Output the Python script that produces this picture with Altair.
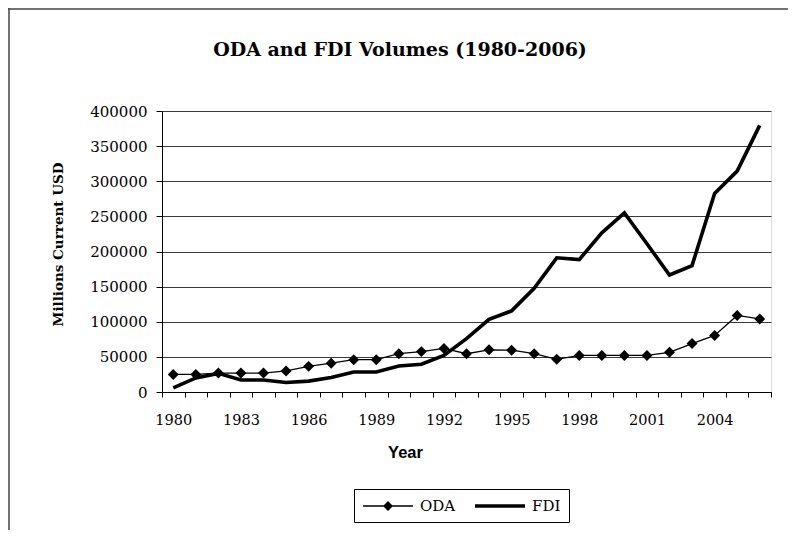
import altair as alt
import pandas as pd

years = list(range(1980, 2007))
oda = [25000, 25000, 27000, 27000, 27000, 30000, 36500, 41000, 46000, 46000,
       54500, 57500, 62000, 54500, 60000, 59500, 54500, 46500, 52000, 52000,
       52000, 52000, 56500, 69000, 80500, 109000, 104000]
fdi = [6000, 20000, 26500, 17000, 17000, 13500, 15500, 20500, 28500, 28500,
       37000, 39500, 52000, 76000, 103500, 115500, 147500, 191000, 188500, 226500,
       255000, 211000, 166500, 180000, 282500, 314500, 379500]
series_names = ["ODA", "FDI"]
y_ticks = [0, 50000, 100000, 150000, 200000, 250000, 300000, 350000, 400000]
x_label_years = [1980, 1983, 1986, 1989, 1992, 1995, 1998, 2001, 2004]
chart_title = "ODA and FDI Volumes (1980-2006)"

rows = []
for yr, o, f in zip(years, oda, fdi):
    rows.append({"year": yr, "series": "ODA", "value": o})
    rows.append({"year": yr, "series": "FDI", "value": f})
df = pd.DataFrame(rows)

W, H = 609, 281
step = W / len(years)
tick_positions = [y - 0.5 for y in years] + [years[-1] + 0.5]
label_list = "[" + ",".join(str(v) for v in x_label_years) + "]"

SERIF = "DejaVu Serif"

x_enc = alt.X(
    "year:Q",
    scale=alt.Scale(domain=[years[0] - 0.5, years[-1] + 0.5], nice=False, zero=False),
    axis=alt.Axis(
        values=tick_positions,
        labelExpr=f"indexof({label_list}, datum.value + 0.5) >= 0 ? format(datum.value + 0.5, 'd') : ''",
        labelOffset=step / 2,
        labelOverlap=False,
        labelFlush=False,
        labelFont=SERIF,
        labelFontSize=14.5,
        labelColor="black",
        labelPadding=16,
        tickSize=5,
        tickColor="black",
        domainColor="black",
        grid=False,
        title="Year",
        titleFont="Liberation Sans",
        titleFontSize=16.5,
        titleFontWeight="bold",
        titleColor="black",
        titleX=243,
        titleY=60,
        titleBaseline="middle",
        titleAlign="center",
    ),
)

y_enc = alt.Y(
    "value:Q",
    scale=alt.Scale(domain=[0, 400000], nice=False),
    axis=alt.Axis(
        values=y_ticks,
        format="d",
        labelFont=SERIF,
        labelFontSize=15,
        labelColor="black",
        labelPadding=9,
        tickSize=6,
        tickColor="black",
        domainColor="black",
        grid=True,
        gridColor="#3a3a3a",
        gridWidth=1,
        title="Millions Current USD",
        titleFont=SERIF,
        titleFontSize=13.5,
        titleFontWeight="bold",
        titleColor="black",
        titleX=-104,
        titleY=133,
        titleAngle=-90,
        titleAlign="center",
        titleBaseline="middle",
    ),
)

base = alt.Chart(df)

oda_line = base.mark_line(color="black", strokeWidth=1.3).encode(
    x=x_enc, y=y_enc
).transform_filter(alt.datum.series == "ODA")

fdi_line = base.mark_line(color="black", strokeWidth=3.6).encode(
    x=x_enc, y=y_enc
).transform_filter(alt.datum.series == "FDI")

oda_points = base.mark_point(
    shape="diamond", filled=True, size=120, color="black", opacity=1
).encode(x=x_enc, y=y_enc).transform_filter(alt.datum.series == "ODA")

# legend symbols: unit = 8px (symbol size 256); a 50px line with centred diamond
path_oda = "M-1,-0.085H5.25V0.085H-1Z M1.5,0L2.125,-0.625L2.75,0L2.125,0.625Z"
path_fdi = "M-1,-0.22H5.25V0.22H-1Z"

legend_layer = base.mark_point(
    filled=True, size=256, color="black", opacity=1
).encode(
    x=x_enc,
    y=y_enc,
    shape=alt.Shape(
        "series:N",
        scale=alt.Scale(domain=series_names, range=[path_oda, path_fdi]),
        legend=alt.Legend(
            title=None,
            orient="none",
            direction="horizontal",
            legendX=192,
            legendY=378,
            strokeColor="black",
            padding=8,
            labelFont=SERIF,
            labelFontSize=15,
            labelColor="black",
            labelOffset=40,
            columnPadding=16,
            symbolSize=256,
            symbolFillColor="black",
            symbolOpacity=1,
        ),
    ),
).transform_filter("false")

one = pd.DataFrame({"t": [chart_title]})
title_text = alt.Chart(one).mark_text(
    font=SERIF, fontSize=19, fontWeight="bold", color="black",
    align="center", baseline="alphabetic"
).encode(x=alt.value(238), y=alt.value(-55), text="t:N")

frame_left = alt.Chart(one).mark_rule(color="#444", strokeWidth=1.5).encode(
    x=alt.value(-153), y=alt.value(-103), y2=alt.value(419)
)
frame_top = alt.Chart(one).mark_rule(color="#444", strokeWidth=1.5).encode(
    x=alt.value(-154), x2=alt.value(626), y=alt.value(-102)
)

chart = alt.layer(
    frame_left, frame_top, title_text, fdi_line, oda_line, oda_points, legend_layer
).properties(
    width=W,
    height=H,
    autosize=alt.AutoSizeParams(type="none"),
    padding={"left": 154, "top": 103, "right": 17, "bottom": 138},
).configure_view(stroke=None).configure(background="white")

chart.save("out.html", embed_options={"renderer": "svg", "actions": False})
